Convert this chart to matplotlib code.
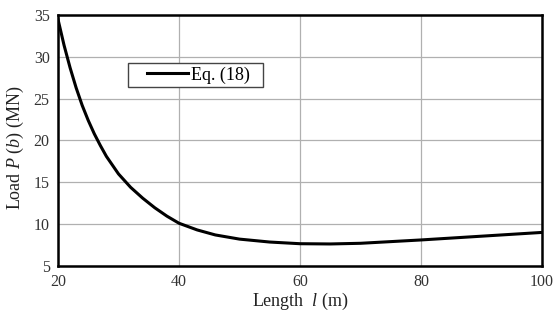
import numpy as np
import matplotlib.pyplot as plt
from matplotlib.patches import Rectangle

plt.rcParams['font.family'] = ['Liberation Serif', 'DejaVu Serif']
plt.rcParams['mathtext.fontset'] = 'custom'
plt.rcParams['mathtext.rm'] = 'Liberation Serif'
plt.rcParams['mathtext.it'] = 'Liberation Serif:italic'

# Longitud l (m) y carga P(b) (MN)
longitud = [20, 21, 22, 23, 24, 25, 26, 27, 28, 30, 32, 34, 36, 38, 40, 43,
            46, 50, 55, 60, 65, 70, 80, 90, 100]
carga = [34.5, 31.4, 28.7, 26.3, 24.2, 22.4, 20.8, 19.4, 18.1, 16.0, 14.4,
         13.1, 11.95, 10.95, 10.1, 9.3, 8.7, 8.2, 7.85, 7.65, 7.62, 7.7, 8.1,
         8.55, 9.0]

fig = plt.figure(figsize=(5.55, 3.15), dpi=100)
ax = fig.add_axes([0.1045, 0.156, 0.872, 0.796])

ax.plot(longitud, carga, color='black', lw=2.2, label='Eq. (18)')

ax.set_xlim(20, 100)
ax.set_ylim(5, 35)
ax.set_xticks([20, 40, 60, 80, 100])
ax.set_yticks([5, 10, 15, 20, 25, 30, 35])
ax.grid(color='#b0b0b0', lw=0.9)
ax.set_axisbelow(True)
for s in ax.spines.values():
    s.set_linewidth(1.8)
    s.set_color('black')
ax.tick_params(length=0, labelsize=11.5, colors='#333333', pad=6)

ax.set_xlabel('Length  $\\mathit{l}$ (m)', fontsize=13, color='#222222')
ax.xaxis.set_label_coords(0.5, -0.1)
ax.set_ylabel('Load $\\mathit{P}$ $\\mathit{(b)}$ (MN)', fontsize=13, color='#222222')
ax.yaxis.set_label_coords(-0.066, 0.472)

# caja de la leyenda
ax.add_patch(Rectangle((0.1446, 0.713), 0.279, 0.096, transform=ax.transAxes,
                       facecolor='white', edgecolor='#444444', lw=1.0, zorder=4))
leg = ax.legend(loc='center', bbox_to_anchor=(0.29, 0.761), fontsize=13,
                frameon=False, handlelength=2.3, handletextpad=0.15,
                borderpad=0, borderaxespad=0)
leg.set_zorder(5)

fig.savefig('out.png', dpi=100)
